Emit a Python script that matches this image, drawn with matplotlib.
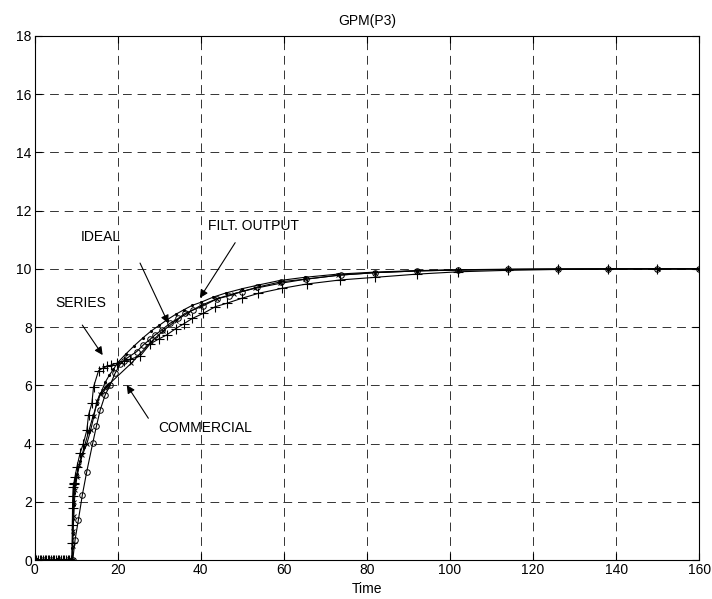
import matplotlib
matplotlib.use("Agg")
import matplotlib.pyplot as plt

plt.rcParams['font.family'] = ['Liberation Sans', 'DejaVu Sans']

# SERIES response (+ markers)
t_series = [0, 0.4, 0.8, 1.2, 1.6, 2.0, 2.4, 2.8, 3.2, 3.6, 4.0, 4.4, 4.8, 5.2, 5.6, 6.0,
            6.4, 6.8, 7.2, 7.6, 8.0, 8.4, 8.8, 9.0, 9.05, 9.1, 9.15, 9.2, 9.3, 9.4, 9.5,
            9.75, 10.2, 10.96, 11.75, 12.6, 13.0, 13.8, 14.2, 15.4, 16.5, 17.5, 18.5, 19.8,
            21.5, 23.0, 25.4, 27.8, 30.0, 31.8, 34.0, 36.0, 38.0, 40.6, 43.5, 46.3, 49.9,
            53.9, 59.5, 65.5, 73.6, 82.0, 92.1, 102.0, 113.9, 126.0, 138.0, 149.8, 160.0]
y_series = [0, 0, 0, 0, 0, 0, 0, 0, 0, 0, 0, 0, 0, 0, 0, 0,
            0, 0, 0, 0, 0, 0, 0, 0, 0.6, 1.2, 1.8, 2.2, 2.5, 2.6, 2.65,
            2.86, 3.2, 3.67, 4.0, 4.47, 4.98, 5.38, 5.94, 6.5, 6.6, 6.65, 6.7, 6.76,
            6.83, 6.9, 7.0, 7.42, 7.6, 7.73, 7.95, 8.12, 8.3, 8.47, 8.7, 8.82, 8.99,
            9.16, 9.33, 9.48, 9.62, 9.71, 9.82, 9.9, 9.95, 9.98, 9.99, 10.0, 10.0]

# IDEAL response (o markers)
t_ideal = [0, 2.0, 4.0, 6.0, 8.0, 9.2, 9.75, 10.55, 11.5, 12.56, 14.0, 14.9, 15.8, 17.0,
           18.2, 19.4, 20.6, 21.5, 22.6, 24.6, 26.2, 27.8, 29.0, 30.6, 32.6, 34.6, 36.2,
           38.2, 40.6, 43.9, 46.7, 49.9, 53.6, 59.4, 65.4, 73.7, 82.0, 92.1, 102.0, 113.9,
           126.0, 138.0, 149.8, 160.0]
y_ideal = [0, 0, 0, 0, 0, 0, 0.69, 1.37, 2.23, 3.03, 4.01, 4.6, 5.15, 5.67,
           6.01, 6.42, 6.72, 6.85, 6.97, 7.16, 7.39, 7.58, 7.73, 7.9, 8.13, 8.3, 8.47,
           8.59, 8.73, 8.97, 9.07, 9.22, 9.37, 9.56, 9.65, 9.79, 9.87, 9.93, 9.96, 9.98,
           9.99, 10.0, 10.0, 10.0]

# COMMERCIAL response (x markers)
t_comm = [0, 3.0, 6.0, 9.0, 9.15, 9.2, 9.3, 9.45, 9.6, 9.8, 10.2, 10.8, 11.5, 12.6, 13.5,
          14.3, 15.0, 15.8, 16.4, 16.9, 17.3, 17.5, 17.7, 23.3, 28.1, 31.0, 34.0, 37.0,
          40.0, 44.0, 48.0, 53.0, 59.0, 65.0, 73.0, 82.0, 92.0, 102.0, 114.0, 126.0,
          138.0, 150.0, 160.0]
y_comm = [0, 0, 0, 0, 0, 0.5, 1.0, 1.5, 2.0, 2.4, 2.86, 3.25, 3.6, 4.0, 4.45,
          4.95, 5.45, 5.7, 5.82, 5.9, 5.95, 5.98, 6.01, 6.76, 7.5, 7.88, 8.22, 8.5,
          8.74, 8.98, 9.15, 9.33, 9.5, 9.64, 9.78, 9.87, 9.93, 9.96, 9.98, 9.99,
          10.0, 10.0, 10.0]

# FILT. OUTPUT (dots)
t_filt = [0, 9.0, 9.1, 9.2, 9.3, 9.4, 9.5, 9.7, 10.2, 11.0, 12.0, 13.0, 14.0, 15.0, 16.0,
          17.0, 18.0, 19.0, 20.0, 22.0, 24.0, 26.0, 28.0, 30.0, 32.0, 34.0, 36.0, 38.0,
          40.0, 43.0, 46.0, 50.0, 54.0, 59.0, 65.0, 73.0, 82.0, 92.0, 102.0, 114.0, 126.0,
          138.0, 150.0, 160.0]
y_filt = [0, 0, 0.4, 0.9, 1.4, 1.9, 2.3, 2.6, 2.95, 3.4, 3.9, 4.4, 4.9, 5.35, 5.75,
          6.1, 6.35, 6.55, 6.78, 7.08, 7.36, 7.62, 7.86, 8.06, 8.26, 8.44, 8.6, 8.75,
          8.85, 9.03, 9.17, 9.32, 9.45, 9.6, 9.71, 9.82, 9.89, 9.94, 9.97, 9.99, 10.0,
          10.0, 10.0, 10.0]

x_ticks = [0, 20, 40, 60, 80, 100, 120, 140, 160]
y_ticks = [0, 2, 4, 6, 8, 10, 12, 14, 16, 18]

fig = plt.figure(figsize=(7.12, 5.99), dpi=100)
ax = fig.add_axes([0.0485, 0.065, 0.9335, 0.875])

ax.plot(t_filt, y_filt, color='k', linewidth=0.8, marker='.', markersize=2.5)
ax.plot(t_comm, y_comm, color='k', linewidth=0.8, marker='x', markersize=3.5, markeredgewidth=0.7)
ax.plot(t_ideal, y_ideal, color='k', linewidth=0.8, marker='o', markersize=4,
        markerfacecolor='none', markeredgewidth=0.7)
ax.plot(t_series, y_series, color='k', linewidth=0.8, marker='+', markersize=7, markeredgewidth=0.8)

ax.set_xlim(0, 160)
ax.set_ylim(0, 18)
ax.set_xticks(x_ticks)
ax.set_yticks(y_ticks)
ax.tick_params(direction='in', top=True, right=True, labelsize=10, length=5, width=0.8, pad=2)
ax.grid(True, color='k', linestyle=(0, (9, 6)), linewidth=0.7, alpha=0.8)
for s in ax.spines.values():
    s.set_linewidth(0.8)

ax.set_title("GPM(P3)", fontsize=10, pad=8)
ax.set_xlabel("Time", fontsize=10, labelpad=4)

arrow = dict(arrowstyle='-|>', color='k', linewidth=0.8, mutation_scale=12, shrinkA=0, shrinkB=0)
ax.text(16.0, 11.1, "IDEAL", fontsize=10, ha='center', va='center')
ax.annotate("", xy=(32.2, 8.13), xytext=(25.4, 10.2), arrowprops=arrow)
ax.text(11.2, 8.83, "SERIES", fontsize=10, ha='center', va='center')
ax.annotate("", xy=(16.4, 7.04), xytext=(11.5, 8.07), arrowprops=arrow)
ax.text(52.6, 11.47, "FILT. OUTPUT", fontsize=10, ha='center', va='center')
ax.annotate("", xy=(39.8, 9.0), xytext=(48.3, 10.9), arrowprops=arrow)
ax.text(41.1, 4.53, "COMMERCIAL", fontsize=10, ha='center', va='center')
ax.annotate("", xy=(22.2, 6.01), xytext=(27.4, 4.87), arrowprops=arrow)

fig.savefig("out.png", dpi=100)
